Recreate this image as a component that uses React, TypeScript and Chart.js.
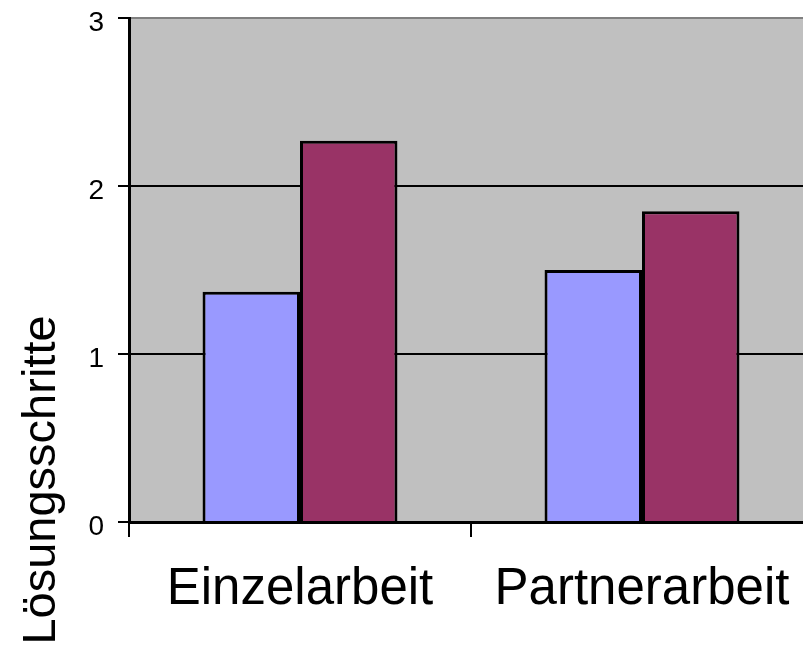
import React, { useEffect, useRef } from "react";
import { Chart, registerables } from "chart.js";

Chart.register(...registerables);

const categories = ["Einzelarbeit", "Partnerarbeit"];
const seriesBlue = [1.37, 1.5];
const seriesRed = [2.27, 1.85];
const yTicks = [0, 1, 2, 3];
const yTitle = "Lösungsschritte";

const FONT = "'Liberation Sans', Arial, sans-serif";

const bgPlugin = {
  id: "plotBg",
  beforeDraw(chart: any) {
    const { ctx, chartArea } = chart;
    ctx.save();
    ctx.fillStyle = "#C0C0C0";
    ctx.fillRect(chartArea.left, chartArea.top, chartArea.right - chartArea.left, chartArea.bottom - chartArea.top);
    ctx.restore();
  },
};

const titlePlugin = {
  id: "yTitle",
  afterDraw(chart: any) {
    const { ctx } = chart;
    ctx.save();
    ctx.translate(55, 480);
    ctx.rotate(-Math.PI / 2);
    ctx.font = `47px ${FONT}`;
    ctx.fillStyle = "#000";
    ctx.textAlign = "center";
    ctx.textBaseline = "alphabetic";
    ctx.fillText(yTitle, 0, 0);
    ctx.restore();
  },
};

export default function App() {
  const ref = useRef<HTMLCanvasElement>(null);
  useEffect(() => {
    if (!ref.current) return;
    const chart = new Chart(ref.current, {
      type: "bar",
      data: {
        labels: categories,
        datasets: [
          { data: seriesBlue, backgroundColor: "#9999FF", borderColor: "#000", borderWidth: 3 },
          { data: seriesRed, backgroundColor: "#993366", borderColor: "#000", borderWidth: 3 },
        ],
      },
      options: {
        animation: false,
        responsive: false,
        maintainAspectRatio: false,
        devicePixelRatio: 1,
        layout: { padding: { top: 18, left: 0, right: 0, bottom: 0 } },
        plugins: { legend: { display: false }, tooltip: { enabled: false } },
        datasets: { bar: { barPercentage: 1, categoryPercentage: 0.57 } },
        scales: {
          x: {
            grid: { drawOnChartArea: false, drawTicks: true, tickLength: 15, color: "#000", lineWidth: 2 },
            border: { color: "#000", width: 3 },
            ticks: { font: { size: 51, family: FONT }, color: "#000", padding: 22 },
            afterFit(scale: any) {
              scale.height = 131;
            },
          },
          y: {
            min: 0,
            max: 3,
            afterBuildTicks(scale: any) {
              scale.ticks = yTicks.map((v) => ({ value: v }));
            },
            grid: {
              color: (c: any) => (c.tick && c.tick.value === 3 ? "#808080" : "#000"),
              tickColor: "#000",
              lineWidth: 2,
              tickLength: 11,
            },
            border: { color: "#000", width: 3 },
            ticks: { font: { size: 28, family: FONT }, color: "#000", padding: 14, labelOffset: 5 },
            afterFit(scale: any) {
              scale.width = 129;
              scale.paddingTop = 0;
            },
          },
        },
      },
      plugins: [bgPlugin, titlePlugin],
    });
    return () => chart.destroy();
  }, []);
  return (
    <div style={{ position: "absolute", left: 0, top: 0, width: 803, height: 653, overflow: "hidden", background: "#fff" }}>
      <canvas ref={ref} width={813} height={653} style={{ width: 813, height: 653, display: "block" }} />
    </div>
  );
}
